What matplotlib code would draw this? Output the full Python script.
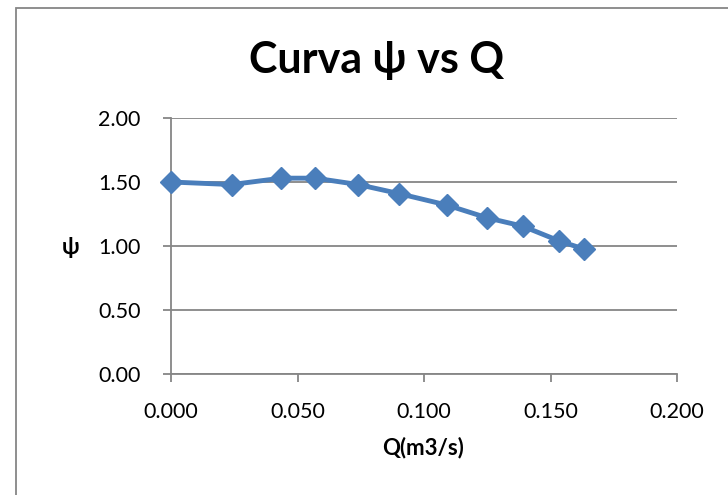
import matplotlib.pyplot as plt
from matplotlib.patches import Rectangle

# caudal Q (m3/s) y coeficiente psi
Q = [0.000, 0.024, 0.0436, 0.057, 0.074, 0.090, 0.109, 0.125, 0.139, 0.1534, 0.1634]
psi = [1.50, 1.48, 1.53, 1.53, 1.48, 1.41, 1.32, 1.22, 1.155, 1.04, 0.975]

xticks = [0.000, 0.050, 0.100, 0.150, 0.200]
yticks = [0.00, 0.50, 1.00, 1.50, 2.00]

plt.rcParams['font.family'] = ['Lato', 'DejaVu Sans']

fig = plt.figure(figsize=(7.28, 4.95), dpi=100)
ax = fig.add_axes([171/728, 1 - 374/495, (677 - 171)/728, (374 - 118)/495])

gray = "#868686"
ax.plot(Q, psi, color="#4A7EBB", lw=3.5, marker="D", markersize=11, zorder=3,
        clip_on=False)

ax.set_xlim(0, 0.2)
ax.set_ylim(0, 2)
ax.set_xticks(xticks)
ax.set_yticks(yticks)
ax.set_xticklabels(["%.3f" % v for v in xticks], fontsize=15.5)
ax.set_yticklabels(["%.2f" % v for v in yticks], fontsize=15.5)
ax.yaxis.grid(True, color=gray, lw=1.3)
ax.set_axisbelow(True)
for s in ["top", "right"]:
    ax.spines[s].set_visible(False)
for s in ["left", "bottom"]:
    ax.spines[s].set_color(gray)
    ax.spines[s].set_linewidth(1.3)
ax.tick_params(axis="both", color=gray, width=1.3, length=6)
ax.tick_params(axis="x", pad=14)
ax.tick_params(axis="y", pad=16)

ax.set_xlabel("Q(m3/s)", fontsize=16, fontweight="bold", va="center")
ax.xaxis.set_label_coords((423 - 171)/506, (374 - 448)/256)
ax.set_ylabel("ψ", fontsize=16, fontweight="bold", rotation=0, va="center", ha="center")
ax.yaxis.set_label_coords((71 - 171)/506, (374 - 248)/256)

fig.text(377/728, 1 - 73/495, "Curva ψ vs Q", fontsize=31, fontweight="bold",
         ha="center", va="baseline")

# marco exterior del grafico
fig.add_artist(Rectangle((16/728, -0.1), 1.2, 1 - 8/495 + 0.1,
                         transform=fig.transFigure, fill=False,
                         edgecolor=gray, lw=1.3))

fig.savefig("out.png", dpi=100)
